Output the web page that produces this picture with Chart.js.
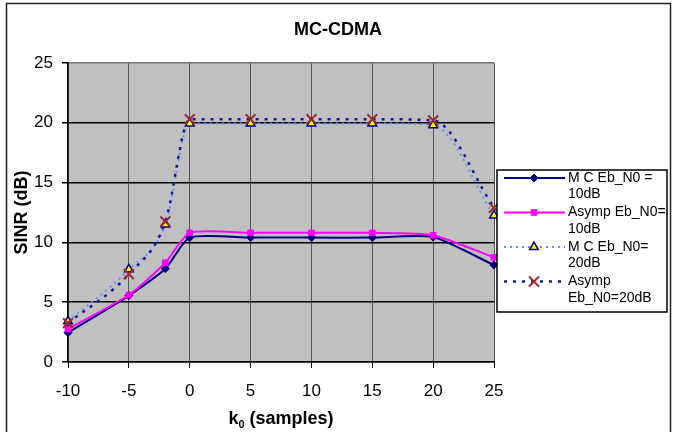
<!DOCTYPE html>
<html>
<head>
<meta charset="utf-8">
<script src="https://cdn.jsdelivr.net/npm/chart.js@4.4.1/dist/chart.umd.min.js"></script>
<style>
body{margin:0;background:#fff;}
canvas{display:block;}
</style>
</head>
<body>
<canvas id="myChartSinr" width="676" height="432"></canvas>
<script>
// valores (SINR em dB)
var k0 = [-10, -5, -2, 0, 5, 10, 15, 20, 25];
var mcEb10 = [2.45, 5.55, 7.8, 10.4, 10.4, 10.4, 10.4, 10.45, 8.1];
var asympEb10 = [2.75, 5.6, 8.3, 10.8, 10.8, 10.8, 10.8, 10.6, 8.75];
var mcEb20 = [3.4, 7.75, 11.5, 19.95, 19.95, 19.95, 19.95, 19.8, 12.25];
var asympEb20 = [3.25, 7.35, 11.75, 20.3, 20.3, 20.3, 20.3, 20.2, 12.9];
var xTicks = [-10, -5, 0, 5, 10, 15, 20, 25];
var yTicks = [0, 5, 10, 15, 20, 25];
var legendLabels = [['M C Eb_N0 =', '10dB'], ['Asymp Eb_N0=', '10dB'], ['M C Eb_N0=', '20dB'], ['Asymp', 'Eb_N0=20dB']];

var fonte = "'Liberation Sans', Arial, sans-serif";

function pontos(serie){
    return k0.map(function(x, i){ return {x: x, y: serie[i]}; });
}

// moldura, titulo, titulo do eixo x e legenda desenhados a mao
const extras = {
    id: 'extras',
    beforeDraw(chart){
        const ctx = chart.ctx;
        const area = chart.chartArea;
        ctx.save();
        ctx.fillStyle = '#c0c0c0';
        ctx.fillRect(area.left, area.top, area.right - area.left, area.bottom - area.top);
        ctx.strokeStyle = '#222';
        ctx.lineWidth = 1.5;
        ctx.strokeRect(6.5, 3.5, 664, 440);
        ctx.fillStyle = '#000';
        ctx.textAlign = 'center';
        ctx.textBaseline = 'middle';
        ctx.font = 'bold 18px ' + fonte;
        ctx.fillText('MC-CDMA', 338, 30);
        ctx.restore();
    },
    afterDraw(chart){
        const ctx = chart.ctx;
        const area = chart.chartArea;
        ctx.save();
        // titulo eixo x com subscrito
        ctx.fillStyle = '#000';
        ctx.textBaseline = 'alphabetic';
        ctx.textAlign = 'left';
        ctx.font = 'bold 18px ' + fonte;
        let w1 = ctx.measureText('k').width;
        let w3 = ctx.measureText(' (samples)').width;
        ctx.font = 'bold 11px ' + fonte;
        let w2 = ctx.measureText('0').width;
        let x0 = (area.left + area.right) / 2 - (w1 + w2 + w3) / 2;
        ctx.font = 'bold 18px ' + fonte;
        ctx.fillText('k', x0, 424);
        ctx.font = 'bold 11px ' + fonte;
        ctx.fillText('0', x0 + w1, 428);
        ctx.font = 'bold 18px ' + fonte;
        ctx.fillText(' (samples)', x0 + w1 + w2, 424);

        // legenda
        ctx.fillStyle = '#fff';
        ctx.fillRect(497, 170, 170, 142);
        ctx.strokeStyle = '#000';
        ctx.lineWidth = 1.5;
        ctx.strokeRect(497, 170, 170, 142);
        chart.data.datasets.forEach(function(ds, i){
            let y = 178 + i * 34.5;
            ctx.save();
            ctx.strokeStyle = ds.borderColor;
            ctx.lineWidth = ds.borderWidth;
            ctx.setLineDash(ds.borderDash || []);
            ctx.beginPath();
            ctx.moveTo(504, y);
            ctx.lineTo(565, y);
            ctx.stroke();
            ctx.setLineDash([]);
            ctx.fillStyle = ds.pointBackgroundColor;
            ctx.strokeStyle = ds.pointBorderColor;
            ctx.lineWidth = ds.pointBorderWidth;
            Chart.helpers.drawPoint(ctx, {
                pointStyle: ds.pointStyle,
                radius: ds.pointRadius,
                rotation: 0,
                borderWidth: ds.pointBorderWidth
            }, 534, y);
            ctx.restore();
            ctx.fillStyle = '#000';
            ctx.font = '14px ' + fonte;
            ctx.textBaseline = 'middle';
            ctx.fillText(legendLabels[i][0], 568, y);
            ctx.fillText(legendLabels[i][1], 568, y + 16.5);
        });
        ctx.restore();
    }
};

const sinr = document.getElementById('myChartSinr');
const myChartSinr = new Chart(sinr, {
    type: 'line',
    data: {
        datasets: [{
            label: legendLabels[0].join(' '),
            data: pontos(mcEb10),
            borderColor: '#000080',
            borderWidth: 2,
            pointStyle: 'rectRot',
            pointRadius: 4,
            pointBackgroundColor: '#000080',
            pointBorderColor: '#000080',
            pointBorderWidth: 1,
            tension: 0.2,
            order: 4
        }, {
            label: legendLabels[1].join(' '),
            data: pontos(asympEb10),
            borderColor: '#ff00ff',
            borderWidth: 2,
            pointStyle: 'rect',
            pointRadius: 4,
            pointBackgroundColor: '#ff00ff',
            pointBorderColor: '#ff00ff',
            pointBorderWidth: 1,
            tension: 0.2,
            order: 3
        }, {
            label: legendLabels[2].join(' '),
            data: pontos(mcEb20),
            borderColor: '#6b8cff',
            borderWidth: 2,
            borderDash: [2, 4],
            pointStyle: 'triangle',
            pointRadius: 5,
            pointBackgroundColor: '#ffff00',
            pointBorderColor: '#000080',
            pointBorderWidth: 1.5,
            cubicInterpolationMode: 'monotone',
            order: 2
        }, {
            label: legendLabels[3].join(' '),
            data: pontos(asympEb20),
            borderColor: '#1a1a99',
            borderWidth: 2.5,
            borderDash: [3, 6],
            pointStyle: 'crossRot',
            pointRadius: 7,
            pointBackgroundColor: '#a0282d',
            pointBorderColor: '#a0282d',
            pointBorderWidth: 2,
            cubicInterpolationMode: 'monotone',
            order: 1
        }]
    },
    options: {
        responsive: false,
        animation: false,
        devicePixelRatio: 1,
        clip: false,
        layout: {
            padding: {left: 0, right: 182, top: 63, bottom: 0}
        },
        plugins: {
            legend: {display: false},
            tooltip: {enabled: false}
        },
        scales: {
            x: {
                type: 'linear',
                min: -10,
                max: 25,
                afterBuildTicks: function(scale){
                    scale.ticks = xTicks.map(function(v){ return {value: v}; });
                },
                afterFit: function(scale){ scale.height = 70; },
                grid: {
                    color: '#555',
                    lineWidth: 1,
                    tickLength: 6,
                    tickColor: '#000'
                },
                border: {color: '#000', width: 1.5},
                ticks: {
                    color: '#000',
                    font: {family: fonte, size: 17},
                    padding: 13,
                    maxRotation: 0
                }
            },
            y: {
                min: 0,
                max: 25,
                afterBuildTicks: function(scale){
                    scale.ticks = yTicks.map(function(v){ return {value: v}; });
                },
                afterFit: function(scale){ scale.width = 68; },
                grid: {
                    color: function(c){ return c.tick && c.tick.value == 25 ? '#777' : '#000'; },
                    lineWidth: 1.5,
                    tickLength: 6,
                    tickColor: '#000'
                },
                border: {color: '#000', width: 1.5},
                ticks: {
                    color: '#000',
                    font: {family: fonte, size: 17},
                    padding: 9
                },
                title: {
                    display: true,
                    text: 'SINR (dB)',
                    color: '#000',
                    font: {family: fonte, size: 18, weight: 'bold'},
                    padding: {top: 11, bottom: 0}
                }
            }
        }
    },
    plugins: [extras]
});
</script>
</body>
</html>
